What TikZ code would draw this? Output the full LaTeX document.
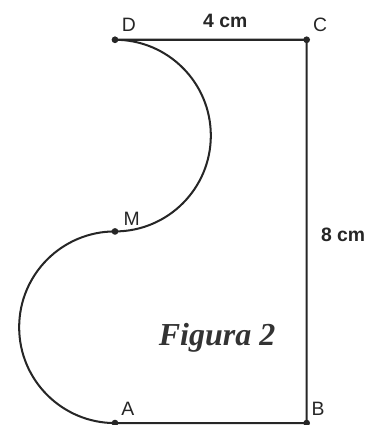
\documentclass[tikz,border=0pt]{standalone}
\usepackage{fontspec}
\setmainfont{Liberation Sans}
\newfontfamily\figfont{Liberation Serif}
\usetikzlibrary{positioning}
\tikzset{
	edge/.style={line width=1.2pt, black!85},
	lbl/.style={font=\fontsize{11.5}{13}\selectfont, text=black!85, inner sep=0pt},
	dim/.style={font=\bfseries\fontsize{11.5}{13}\selectfont, text=black!85, inner sep=0pt},
	dot/.style={circle, fill=black!85, inner sep=0pt, minimum size=4pt}
}
\begin{document}
\begin{tikzpicture}
	\useasboundingbox (-2.40,-0.04) rectangle (5.28,8.83);
	% corners of the figure
	\coordinate (A) at (0,0);
	\coordinate (B) at (4,0);
	\coordinate (C) at (4,8);
	\coordinate (D) at (0,8);
	\coordinate (M) at (0,4);
	% outline: two half circles of radius 2 on the left
	\draw[edge] (A) -- (B) -- (C) -- (D)
		arc[start angle=90, end angle=-90, radius=2]
		arc[start angle=90, end angle=270, radius=2];
	\foreach \p in {A,B,C,D,M}
		\node[dot] at (\p) {};
	% point names
	\node[lbl] (labD) at (0.29,8.31) {D};
	\node[lbl] (labC) at (4.28,8.31) {C};
	\node[lbl] (labM) at (0.35,4.26) {M};
	\node[lbl] (labA) at (0.27,0.29) {A};
	\node[lbl] (labB) at (4.24,0.29) {B};
	% lengths
	\node[dim] (top) at (2.30,8.39) {4 cm};
	\node[dim] (side) at (4.76,3.92) {8 cm};
	\node[font=\figfont\bfseries\itshape\fontsize{19}{22}\selectfont, text=black!80] (title) at (2.13,1.77) {Figura 2};
\end{tikzpicture}
\end{document}
